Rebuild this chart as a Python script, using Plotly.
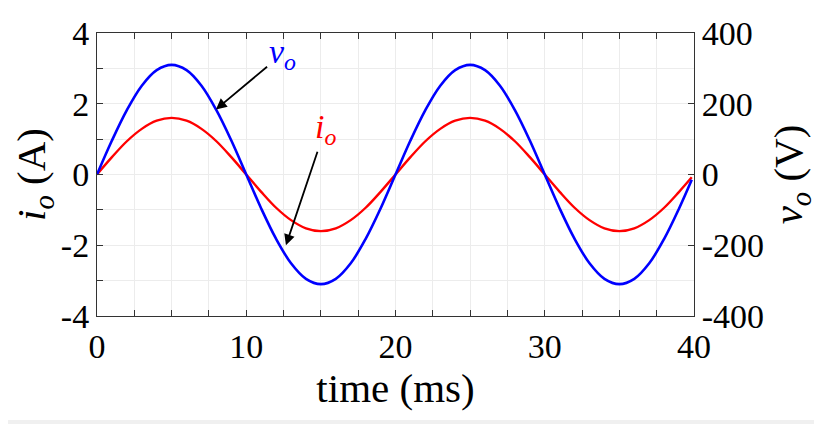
import plotly.graph_objects as go

# === Data ===
time_ms = [0, 1, 2, 3, 4, 5, 6, 7, 8, 9, 10, 11, 12, 13, 14, 15, 16, 17, 18, 19,
           20, 21, 22, 23, 24, 25, 26, 27, 28, 29, 30, 31, 32, 33, 34, 35, 36, 37, 38, 39, 39.85]

v_o = [0, 96, 182, 251, 295, 310, 295, 251, 182, 96,
       0, -96, -182, -251, -295, -310, -295, -251, -182, -96,
       0, 96, 182, 251, 295, 310, 295, 251, 182, 96,
       0, -96, -182, -251, -295, -310, -295, -251, -182, -96, -15]

i_o = [0, 0.49, 0.94, 1.29, 1.52, 1.6, 1.52, 1.29, 0.94, 0.49,
       0, -0.49, -0.94, -1.29, -1.52, -1.6, -1.52, -1.29, -0.94, -0.49,
       0, 0.49, 0.94, 1.29, 1.52, 1.6, 1.52, 1.29, 0.94, 0.49,
       0, -0.49, -0.94, -1.29, -1.52, -1.6, -1.52, -1.29, -0.94, -0.49, -0.08]

left_ticks = [-4, -2, 0, 2, 4]
left_labels = ["-4", "-2", "0", "2", "4"]
right_ticks = [-400, -200, 0, 200, 400]
right_labels = ["-400", "-200", "0", "200", "400"]
x_ticks = [0, 10, 20, 30, 40]

FONT = "Liberation Serif"
FS = 34
AXIS_COL = "#333333"
GRID_COL = "#ececec"

# page has an 8px body margin, so the figure is a bit smaller than the window
W, H = 814, 416
L, T, PW, PH = 89, 25, 597, 283

fig = go.Figure()

fig.add_trace(go.Scatter(x=time_ms, y=i_o, mode="lines", line=dict(color="red", width=2.4, shape="spline"),
                         showlegend=False))
fig.add_trace(go.Scatter(x=time_ms, y=v_o, mode="lines", line=dict(color="blue", width=2.6, shape="spline"),
                         yaxis="y2", showlegend=False))

# === Arrow labels (text sits at the arrow tail) ===
fig.add_annotation(x=7.97, y=1.84, ax=12.4, ay=3.4, xref="x", yref="y", axref="x", ayref="y",
                   text="<i>v</i><sub><i>o</i></sub>", font=dict(family=FONT, size=FS, color="blue"),
                   showarrow=True, arrowhead=2, arrowsize=1.2, arrowwidth=1.8, arrowcolor="black")
fig.add_annotation(x=12.66, y=-2.0, ax=15.28, ay=1.28, xref="x", yref="y", axref="x", ayref="y",
                   text="<i>i</i><sub><i>o</i></sub>", font=dict(family=FONT, size=FS, color="red"),
                   showarrow=True, arrowhead=2, arrowsize=1.2, arrowwidth=1.8, arrowcolor="black")

fig.update_layout(
    width=W, height=H,
    margin=dict(l=L, r=W - L - PW, t=T, b=H - T - PH),
    paper_bgcolor="white", plot_bgcolor="white",
    font=dict(family=FONT, size=FS, color="black"),
    xaxis=dict(
        range=[0, 40], tickvals=x_ticks, ticks="inside", ticklen=6, tickcolor=AXIS_COL,
        showline=True, linecolor=AXIS_COL, linewidth=1, mirror="ticks",
        showgrid=True, gridcolor=GRID_COL, zeroline=False,
        minor=dict(dtick=2.5, ticks="inside", ticklen=6, tickcolor=AXIS_COL, showgrid=True, gridcolor=GRID_COL),
        title=dict(text="time (ms)", standoff=4),
        automargin=False,
    ),
    yaxis=dict(
        range=[-4, 4], tickvals=left_ticks, ticktext=left_labels, ticks="inside", ticklen=6, tickcolor=AXIS_COL,
        showline=True, linecolor=AXIS_COL, linewidth=1,
        showgrid=True, gridcolor=GRID_COL, zeroline=False,
        minor=dict(dtick=1, ticks="inside", ticklen=6, tickcolor=AXIS_COL, showgrid=True, gridcolor=GRID_COL),
        title=dict(text="<i>i</i><sub><i>o</i></sub> (A)", standoff=10),
        automargin=False,
    ),
    yaxis2=dict(
        range=[-400, 400], tickvals=right_ticks, ticktext=right_labels, ticks="inside", ticklen=6,
        tickcolor=AXIS_COL, overlaying="y", side="right",
        showline=True, linecolor=AXIS_COL, linewidth=1,
        showgrid=False, zeroline=False,
        title=dict(text="<i>v</i><sub><i>o</i></sub> (V)", standoff=10),
        automargin=False,
    ),
    # light strip along the right and bottom edges of the screenshot
    shapes=[
        dict(type="rect", xref="paper", yref="paper", x0=(810 - L) / PW, x1=(830 - L) / PW,
             y0=(T + PH - 430) / PH, y1=(T + PH) / PH + 0.2, fillcolor="#f0f0f0", line=dict(width=0),
             layer="above"),
        dict(type="rect", xref="paper", yref="paper", x0=-L / PW - 0.1, x1=(830 - L) / PW,
             y0=(T + PH - 430) / PH, y1=(T + PH - 412) / PH, fillcolor="#f0f0f0", line=dict(width=0),
             layer="above"),
    ],
)

fig.write_html("out.html")
